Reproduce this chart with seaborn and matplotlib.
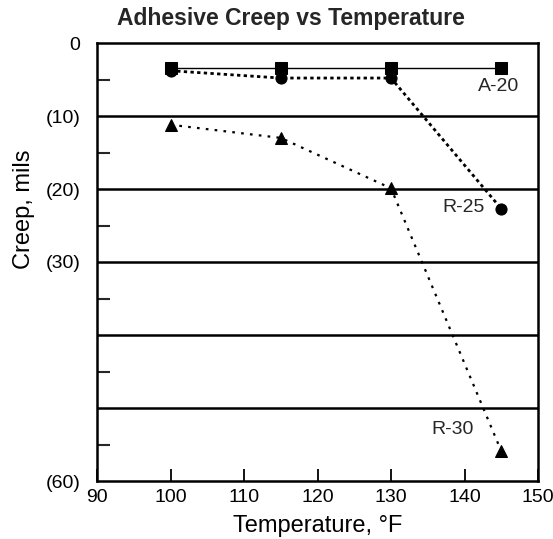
import numpy as np
import pandas as pd
import seaborn as sns
import matplotlib
matplotlib.use("Agg")
import matplotlib.pyplot as plt
from matplotlib.ticker import FixedLocator

# ---- data ----
temps = [100, 115, 130, 145]
a20 = [3.4, 3.4, 3.4, 3.4]
r25 = [3.8, 4.8, 4.8, 22.7]
r30 = [11.2, 13.0, 19.9, 55.9]
series_names = ["A-20", "R-25", "R-30"]
y_ticks = [0, 10, 20, 30, 40, 50, 60]
y_tick_labels = ["0", "(10)", "(20)", "(30)", "", "", "(60)"]
x_ticks = [90, 100, 110, 120, 130, 140, 150]

sns.set_theme(style="white")
plt.rcParams['font.family'] = ['Liberation Sans', 'DejaVu Sans']

fig = plt.figure(figsize=(5.53, 5.39), dpi=100)
ax = fig.add_axes([97/553, 1-481/539, 441/553, 438/539])

df = pd.DataFrame({"Temperature": temps * 3,
                   "Creep": a20 + r25 + r30,
                   "Series": [s for s in series_names for _ in temps]})

styles = {
    "A-20": dict(marker="s", ls="-", lw=1.0, ms=9),
    "R-25": dict(marker="o", ls=(0, (1.2, 1.2)), lw=2.0, ms=8),
    "R-30": dict(marker="^", ls=(0, (1.2, 2.8)), lw=1.6, ms=8),
}
for name in series_names:
    sub = df[df["Series"] == name]
    st = styles[name]
    sns.lineplot(data=sub, x="Temperature", y="Creep", ax=ax, color="black",
                 marker=st["marker"], linestyle=st["ls"], linewidth=st["lw"],
                 markersize=st["ms"], markeredgecolor="black", legend=False,
                 zorder=5)

ax.set_xlim(90, 150)
ax.set_ylim(60, 0)

# gridlines
for y in [10, 20, 30, 40, 50]:
    ax.axhline(y, color="black", lw=1.8, zorder=2)

ax.set_xticks(x_ticks)
ax.set_xticklabels([str(t) for t in x_ticks], fontsize=14)
ax.set_yticks(y_ticks)
ax.set_yticklabels(y_tick_labels, fontsize=14)
ax.yaxis.set_minor_locator(FixedLocator([5, 15, 25, 35, 45, 55]))
ax.tick_params(axis="x", direction="in", length=9, width=1.3, pad=6,
               bottom=True, top=False, colors="black")
ax.tick_params(axis="y", which="major", direction="in", length=0, pad=12,
               left=True, colors="black")
ax.tick_params(axis="y", which="minor", direction="in", length=9, width=1.5,
               left=True)
for sp in ax.spines.values():
    sp.set_color("black")
    sp.set_linewidth(1.8)

ax.set_xlabel("Temperature, °F", fontsize=17, color="black")
ax.set_ylabel("Creep, mils", fontsize=17, color="black")
ax.xaxis.set_label_coords(0.5, -0.078)
ax.yaxis.set_label_coords(-0.14, 0.62)

ax.text(144.6, 5.9, "A-20", fontsize=14, ha="center", va="center")
ax.text(139.9, 22.5, "R-25", fontsize=14, ha="center", va="center")
ax.text(138.4, 53.0, "R-30", fontsize=14, ha="center", va="center")

fig.text(291/553, 1-19/539, "Adhesive Creep vs Temperature", fontsize=16.5,
         fontweight="bold", ha="center", va="center")

fig.savefig("out.png", dpi=100)
